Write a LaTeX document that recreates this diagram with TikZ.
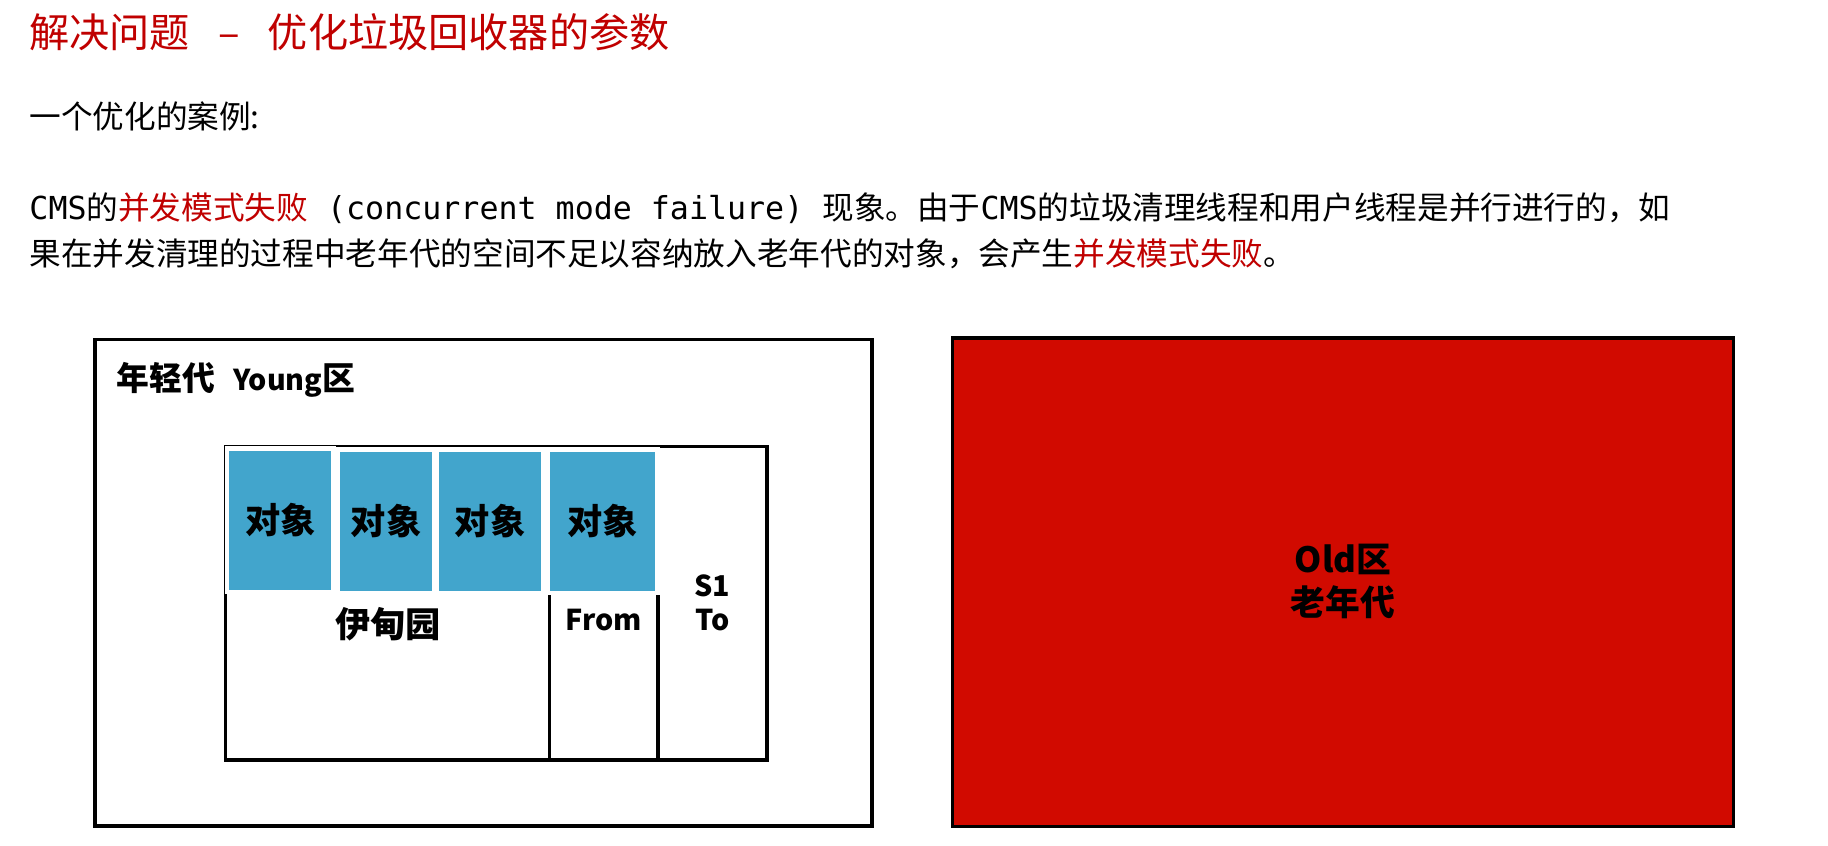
\documentclass[tikz,border=0pt]{standalone}
\usepackage{fontspec}
\setmainfont{Noto Sans CJK SC}
\setmonofont{DejaVu Sans Mono}
\usetikzlibrary{shadows}
\definecolor{titlered}{RGB}{192,0,0}
\definecolor{objblue}{RGB}{66,165,204}
\definecolor{oldred}{RGB}{209,10,0}
\begin{document}
\begin{tikzpicture}[x=0.025cm,y=-0.025cm,
	txt/.style={inner sep=0pt,anchor=west},
	zone/.style={line width=2pt},
	objbox/.style={fill=objblue,draw=white,line width=0.1cm,inner sep=0pt,
		minimum height=3.08cm,drop shadow={opacity=0.45,shadow xshift=0.5pt,shadow yshift=-1pt},
		font=\fontsize{21.5}{24}\selectfont\bfseries},
	lbl/.style={inner sep=0pt,align=center,font=\fontsize{21.5}{26}\selectfont\bfseries}]
	\path[fill=white,use as bounding box] (0,0) rectangle (1568,725);
	% heading and text
	\node[txt,text=titlered,font=\fontsize{24.5}{28}\selectfont] (title) at (25,28)
		{解决问题\hspace{0.7em}–\hspace{0.7em}优化垃圾回收器的参数};
	\node[txt,font=\fontsize{19.3}{24}\selectfont] (intro) at (25,100) {一个优化的案例:};
	\node[txt,align=left,font=\fontsize{19.3}{28.45}\selectfont] (para) at (25,198)
		{{\ttfamily CMS}的\textcolor{titlered}{并发模式失败}{\ttfamily\ (concurrent mode failure)\ }现象。由于{\ttfamily CMS}的垃圾清理线程和用户线程是并行进行的，如\\
		果在并发清理的过程中老年代的空间不足以容纳放入老年代的对象，会产生\textcolor{titlered}{并发模式失败}。};
	% young generation
	\draw[zone] (81.5,291) rectangle (748,708.5);
	\node[txt,font=\fontsize{20}{24}\selectfont\bfseries] (younglabel) at (100,326)
		{年轻代\hspace{0.55em}{\fontsize{17.5}{24}\selectfont Young}区};
	\draw[zone] (193.6,383) rectangle (658,652);
	\draw[zone] (471.3,383) -- (471.3,652);
	\draw[zone] (564.4,383) -- (564.4,652);
	\node[lbl] (eden) at (333,535) {伊甸园};
	\node[lbl,font=\fontsize{17.5}{20}\selectfont\bfseries] (from) at (518,532) {From};
	\node[lbl,font=\fontsize{17.5}{20.6}\selectfont\bfseries] (to) at (611,517) {S1\\To};
	% objects
	\node[objbox,minimum width=2.28cm] (obj1) at (240.4,446.3) {对象};
	\node[objbox,minimum width=2.07cm] (obj2) at (331.1,447) {对象};
	\node[objbox,minimum width=2.28cm] (obj3) at (420.5,447) {对象};
	\node[objbox,minimum width=2.35cm] (obj4) at (517,447) {对象};
	% old generation
	\draw[zone,fill=oldred] (817,290) rectangle (1487,709);
	\node[lbl,font=\fontsize{21.2}{26.3}\selectfont\bfseries] (oldlabel) at (1152,499) {Old区\\老年代};
\end{tikzpicture}
\end{document}
